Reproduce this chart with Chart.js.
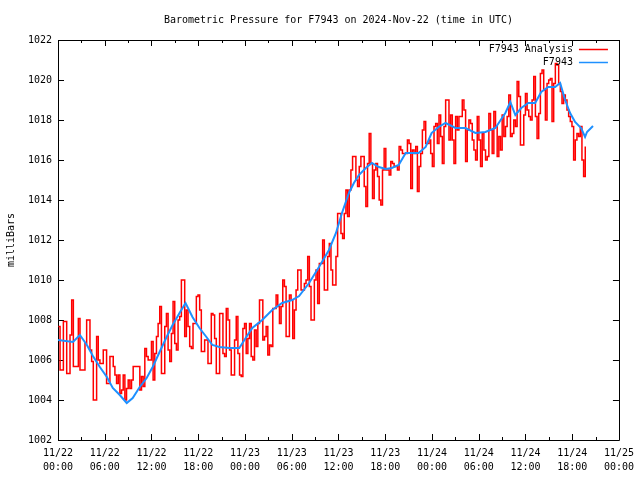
<!DOCTYPE html>
<html lang="en">
  <head>
    <meta charset="UTF-8" />
    <title>Barometric Pressure for F7943</title>
    <script src="https://cdn.jsdelivr.net/npm/chart.js"></script>
    <style>
      html, body { margin: 0; padding: 0; background: #fff; }
    </style>
  </head>
  <body>
    <canvas id="myChart" width="640" height="480"></canvas>

    <script>
      // texts
      var chartTitle = "Barometric Pressure for F7943 on 2024-Nov-22 (time in UTC)";
      var yAxisLabel = "milliBars";
      var seriesNames = ["F7943 Analysis", "F7943"];
      var xTickLabels = [
        ["11/22", "00:00"], ["11/22", "06:00"], ["11/22", "12:00"], ["11/22", "18:00"],
        ["11/23", "00:00"], ["11/23", "06:00"], ["11/23", "12:00"], ["11/23", "18:00"],
        ["11/24", "00:00"], ["11/24", "06:00"], ["11/24", "12:00"], ["11/24", "18:00"],
        ["11/25", "00:00"]
      ];
      var yMin = 1002, yMax = 1022, yStep = 2;
      var hoursShown = 72;

      // analysis series: one reading every 12.8 minutes from 00:03 UTC on 11/22
      var redStartMinutes = 3;
      var redStepMinutes = 12.8;
      var redValues = [
        1007.67, 1005.5, 1005.5, 1007.92, 1007.92, 1005.33, 1005.33, 1007.25, 1009.0, 1005.67,
        1005.67, 1005.67, 1008.08, 1005.5, 1005.5, 1005.5, 1006.83, 1008.0, 1008.0, 1006.5,
        1005.92, 1004.0, 1004.0, 1007.17, 1006.0, 1005.83, 1005.83, 1006.5, 1006.5, 1004.83,
        1004.83, 1006.17, 1006.17, 1005.67, 1005.25, 1004.83, 1005.25, 1004.33, 1004.5, 1005.25,
        1004.0, 1004.58, 1005.0, 1004.58, 1005.0, 1005.67, 1005.67, 1005.67, 1005.67, 1004.5,
        1005.17, 1004.67, 1006.58, 1006.17, 1006.0, 1006.0, 1006.92, 1005.0, 1006.33, 1007.17,
        1007.83,
        1008.67, 1005.33, 1005.33, 1007.67, 1008.33, 1006.5, 1005.92, 1007.33, 1008.92, 1006.83,
        1006.5, 1008.0, 1008.17, 1010.0, 1010.0, 1007.17, 1008.5, 1007.67, 1006.67, 1006.58,
        1007.83, 1007.83, 1009.17, 1009.25, 1008.5, 1006.42, 1006.42, 1007.0, 1007.0, 1005.83,
        1005.83, 1008.33, 1008.25, 1007.08, 1005.33, 1005.33, 1008.33, 1008.33, 1006.33, 1006.17,
        1008.58, 1008.0, 1006.5, 1005.25, 1005.25, 1007.0, 1008.17, 1006.33, 1005.25, 1005.17,
        1007.58, 1007.83, 1006.33, 1007.08, 1007.83, 1006.17, 1006.0, 1007.5, 1006.67, 1007.83,
        1009.0, 1009.0, 1007.0, 1007.17, 1007.67, 1006.25,
        1006.75, 1006.67, 1008.58, 1008.58, 1009.25, 1008.67, 1007.83, 1008.67, 1010.0, 1009.67,
        1007.17, 1007.17, 1009.25, 1009.0, 1007.08, 1008.5, 1009.5, 1010.5, 1010.5, 1009.5,
        1009.5, 1009.83, 1010.0, 1011.17, 1009.67, 1008.0, 1008.0, 1010.0, 1010.5, 1008.83,
        1010.83, 1010.83, 1012.0, 1009.5, 1009.5, 1011.17, 1011.83, 1010.5, 1009.75, 1009.75,
        1011.17, 1013.33, 1013.33, 1012.33, 1012.08, 1013.33, 1014.5, 1013.17,
        1014.5, 1015.5, 1016.17, 1016.17, 1015.0, 1014.67, 1015.67, 1016.17, 1016.17, 1014.67,
        1013.67, 1015.83,
        1017.33, 1015.83, 1014.08, 1015.5, 1015.83, 1015.17, 1014.0, 1013.75, 1015.5, 1016.58,
        1015.5, 1015.5, 1015.25, 1015.92, 1015.83, 1015.67, 1015.67, 1015.5, 1016.67, 1016.5,
        1016.33, 1016.33, 1016.33, 1017.0, 1016.83, 1014.58, 1016.5, 1016.33, 1016.67, 1014.42,
        1015.67, 1016.33, 1017.5, 1017.92, 1016.83, 1016.83, 1017.0, 1016.33, 1015.67, 1017.67,
        1017.83, 1016.83, 1018.25, 1017.17, 1015.83, 1017.67, 1019.0, 1019.0, 1017.0, 1018.25,
        1017.0, 1015.83, 1018.17, 1017.5, 1018.17, 1018.17, 1019.0, 1018.5, 1015.92, 1017.5,
        1018.0, 1017.83, 1017.0,
        1016.5, 1016.0, 1018.17, 1017.0, 1015.67, 1017.33, 1016.5, 1016.0, 1016.17, 1018.33,
        1017.5, 1016.33, 1018.42, 1017.67, 1016.17, 1017.17, 1016.5, 1018.25, 1017.17, 1017.67,
        1018.17, 1019.25, 1017.17, 1017.33, 1018.0, 1017.67, 1019.92, 1019.17, 1016.75, 1016.75,
        1018.25, 1019.33, 1018.5, 1018.17, 1018.0, 1019.0, 1020.17, 1018.17, 1017.08, 1018.33,
        1020.33, 1020.5, 1019.5, 1018.0, 1019.83, 1020.0, 1020.08, 1017.92, 1019.83, 1020.83,
        1020.75, 1019.83, 1019.42, 1018.83, 1019.25, 1019.0, 1018.5, 1018.17, 1017.92, 1017.67,
        1016.0, 1017.0, 1017.33, 1017.17, 1017.67, 1016.0, 1015.17, 1016.67
      ];

      // station series: hours since 11/22 00:00 and pressure
      var blueHours = [
        0.0, 1.92, 2.81, 3.71, 4.48, 5.37, 6.27, 7.03, 7.93, 8.82,
        9.59, 10.49, 11.38, 12.15, 13.04, 13.94, 14.71, 15.6, 16.37, 17.26,
        18.16, 19.05, 19.82, 20.72, 21.99, 23.27, 24.17, 24.94, 26.21, 27.49,
        28.77, 30.05, 30.95, 32.23, 33.5, 34.78, 35.68, 36.45, 37.34, 37.98,
        38.62, 39.51, 40.28, 41.18, 42.07, 42.84, 43.73, 44.63, 45.4, 46.29,
        47.19, 47.95, 48.85, 49.74, 51.02, 52.3, 53.58, 54.86, 56.14, 57.42,
        58.06, 58.7, 59.46, 60.36, 61.25, 62.02, 62.92, 63.81, 64.45, 65.09,
        65.73, 66.37, 67.14, 67.65, 67.9, 68.67
      ];
      var blueValues = [
        1007.0, 1006.9, 1007.25, 1006.75, 1006.2, 1005.65, 1005.15, 1004.6, 1004.25, 1003.85,
        1004.1, 1004.65, 1005.1, 1005.65, 1006.4, 1007.15, 1007.75, 1008.35, 1008.85, 1008.15,
        1007.6, 1007.15, 1006.75, 1006.65, 1006.6, 1006.6, 1007.15, 1007.6, 1008.0, 1008.5,
        1008.85, 1009.0, 1009.2, 1009.85, 1010.65, 1011.5, 1012.35, 1013.35, 1014.35, 1014.85,
        1015.25, 1015.6, 1015.85, 1015.65, 1015.55, 1015.6, 1015.75, 1016.35, 1016.35, 1016.35,
        1016.65, 1017.35, 1017.65, 1017.85, 1017.6, 1017.6, 1017.35, 1017.4, 1017.6, 1018.35,
        1018.9, 1018.25, 1018.6, 1018.85, 1018.85, 1019.4, 1019.65, 1019.65, 1019.85, 1019.0,
        1018.35, 1017.9, 1017.6, 1017.15, 1017.4, 1017.7
      ];

      var redColor = "#ff0000";
      var blueColor = "#1e90ff";
      var fontFamily = "'DejaVu Sans Mono', 'Liberation Mono', monospace";

      var redPoints = redValues.map(function (v, i) {
        return { x: (redStartMinutes + i * redStepMinutes) / 60, y: v };
      });
      var bluePoints = blueValues.map(function (v, i) {
        return { x: blueHours[i], y: v };
      });

      // gnuplot style frame with inward ticks, title, y label and legend
      var gnuplotDecor = {
        id: "gnuplotDecor",
        beforeDatasetsDraw: function (chart) {
          var c = chart.ctx, a = chart.chartArea;
          var xs = chart.scales.x, ys = chart.scales.y;
          c.save();
          c.strokeStyle = "#000";
          c.lineWidth = 1;
          c.beginPath();
          c.rect(Math.round(a.left) + 0.5, Math.round(a.top) + 0.5,
            Math.round(a.right - a.left), Math.round(a.bottom - a.top));
          for (var h = 0; h <= hoursShown; h += 3) {
            var px = Math.round(xs.getPixelForValue(h)) + 0.5;
            var len = h % 6 === 0 ? 6 : 3;
            c.moveTo(px, a.bottom); c.lineTo(px, a.bottom - len);
            c.moveTo(px, a.top); c.lineTo(px, a.top + len);
          }
          for (var v = yMin; v <= yMax; v += yStep) {
            var py = Math.round(ys.getPixelForValue(v)) + 0.5;
            c.moveTo(a.left, py); c.lineTo(a.left + 6, py);
            c.moveTo(a.right, py); c.lineTo(a.right - 6, py);
          }
          c.stroke();
          c.restore();
        },
        afterDraw: function (chart) {
          var c = chart.ctx, a = chart.chartArea;
          c.save();
          c.fillStyle = "#000";
          c.font = "10px " + fontFamily;
          c.textBaseline = "middle";
          c.textAlign = "center";
          c.fillText(chartTitle, (a.left + a.right) / 2, 20);

          c.save();
          c.translate(11, (a.top + a.bottom) / 2);
          c.rotate(-Math.PI / 2);
          c.fillText(yAxisLabel, 0, 0);
          c.restore();

          var colors = [redColor, blueColor];
          c.textAlign = "right";
          for (var i = 0; i < seriesNames.length; i++) {
            var ly = a.top + 9 + i * 13;
            c.fillStyle = "#000";
            c.fillText(seriesNames[i], a.right - 46, ly);
            c.strokeStyle = colors[i];
            c.lineWidth = 1.5;
            c.beginPath();
            c.moveTo(a.right - 40, Math.round(ly) + 0.5);
            c.lineTo(a.right - 11, Math.round(ly) + 0.5);
            c.stroke();
          }
          c.restore();
        }
      };

      var ctx = document.getElementById("myChart").getContext("2d");
      new Chart(ctx, {
        type: "line",
        data: {
          datasets: [
            {
              label: seriesNames[0],
              data: redPoints,
              borderColor: redColor,
              borderWidth: 1.5,
              pointRadius: 0,
              stepped: true,
              fill: false,
              order: 2
            },
            {
              label: seriesNames[1],
              data: bluePoints,
              borderColor: blueColor,
              borderWidth: 2,
              pointRadius: 0,
              tension: 0,
              fill: false,
              order: 1
            }
          ]
        },
        options: {
          responsive: false,
          animation: false,
          devicePixelRatio: 1,
          layout: { padding: { top: 40, right: 19, left: 0, bottom: 0 } },
          plugins: {
            legend: { display: false },
            title: { display: false },
            tooltip: { enabled: false }
          },
          scales: {
            x: {
              type: "linear",
              min: 0,
              max: hoursShown,
              grid: { display: false, drawTicks: false },
              border: { display: false },
              ticks: {
                stepSize: 6,
                autoSkip: false,
                maxRotation: 0,
                padding: 6,
                color: "#000",
                font: { family: fontFamily, size: 10, lineHeight: 1.4 },
                callback: function (value) {
                  return xTickLabels[Math.round(value / 6)];
                }
              },
              afterFit: function (s) { s.height = 40; }
            },
            y: {
              min: yMin,
              max: yMax,
              grid: { display: false, drawTicks: false },
              border: { display: false },
              ticks: {
                stepSize: yStep,
                padding: 6,
                color: "#000",
                font: { family: fontFamily, size: 10 },
                callback: function (value) { return String(value); }
              },
              afterFit: function (s) { s.width = 58; }
            }
          }
        },
        plugins: [gnuplotDecor]
      });
    </script>
  </body>
</html>
